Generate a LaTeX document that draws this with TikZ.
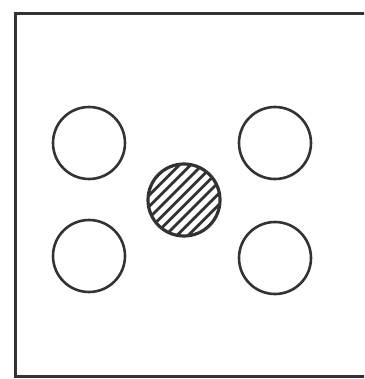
\documentclass[tikz,border=0pt]{standalone}
\begin{document}
\begin{tikzpicture}[x=1pt,y=-1pt,
  ink/.style={draw=black!80, line width=2.6pt},
  hole/.style={ink, circle, minimum size=72pt, inner sep=0pt},
  core/.style={draw=black!80, line width=3.2pt, circle, minimum size=72pt, inner sep=0pt,
    path picture={
      \foreach \k in {-60,-52,...,60}{
        \draw[black!80, line width=2.8pt]
          ([shift={(\k*0.7071pt-60pt, -\k*0.7071pt-60pt)}]path picture bounding box.center) --
          ([shift={(\k*0.7071pt+60pt, -\k*0.7071pt+60pt)}]path picture bounding box.center);
      }
    }}]
\useasboundingbox (0,0) rectangle (364,379);
\clip (0,0) rectangle (364,379);
\draw[draw=black!80, line width=3pt] (15,14) rectangle (372,376);
\node[hole] (tl) at (89,143) {};
\node[hole] (tr) at (275,143) {};
\node[hole] (bl) at (89,256) {};
\node[hole] (br) at (275,258) {};
\node[core] (c) at (184,200) {};
\end{tikzpicture}
\end{document}
